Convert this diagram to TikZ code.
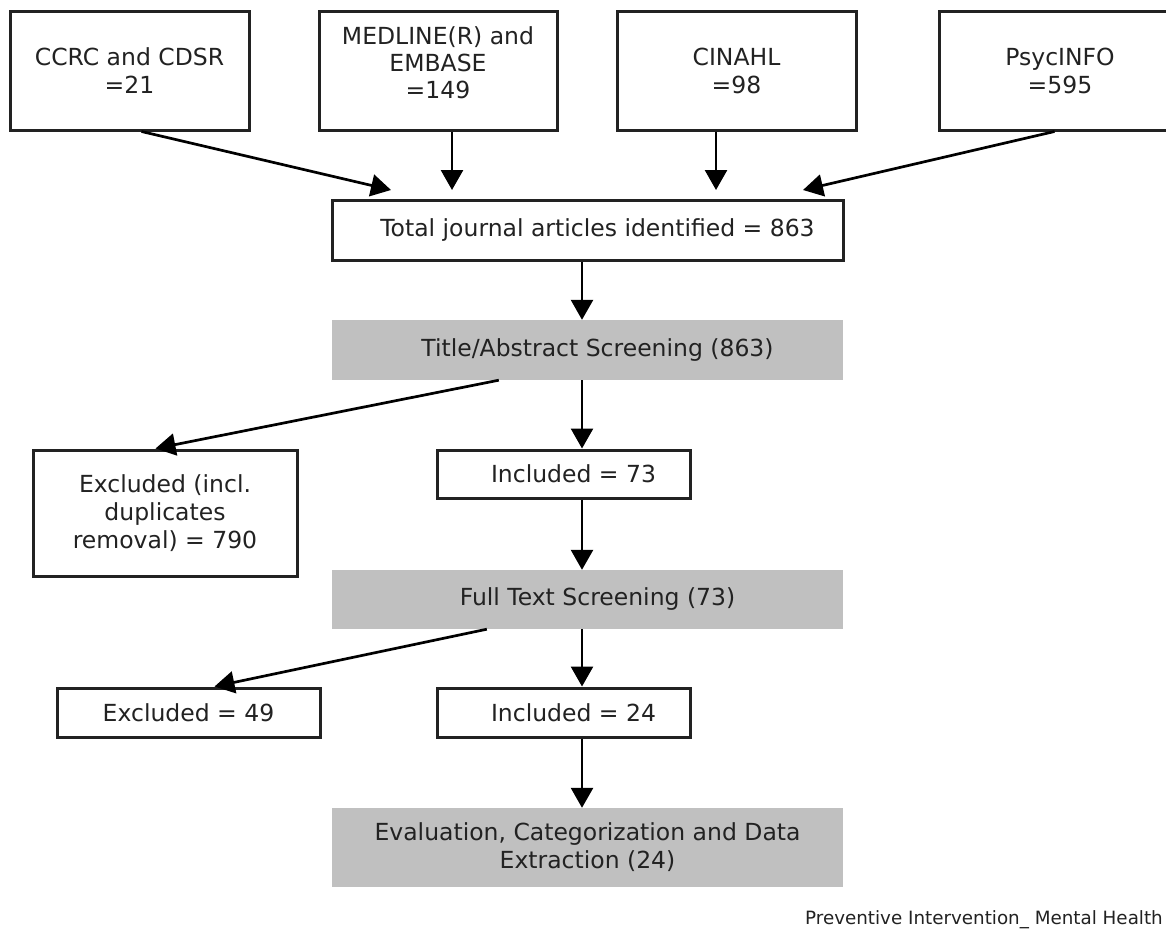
\documentclass[tikz,border=0pt]{standalone}
\usepackage{fontspec}
\setmainfont{DejaVu Sans}
\usetikzlibrary{arrows.meta}
\definecolor{ink}{HTML}{222222}
\definecolor{panel}{HTML}{C0C0C0}
\tikzset{
  box/.style={draw=ink, line width=3pt, fill=white, inner sep=0pt, align=center,
    text=ink, font=\fontsize{23.5pt}{28pt}\selectfont},
  graybox/.style={draw=none, fill=panel, inner sep=0pt, align=center,
    text=ink, font=\fontsize{23.5pt}{28pt}\selectfont},
  shiftr/.style={execute at begin node={\hspace*{20pt}}},
  flow/.style={draw=black, line width=2.7pt, -{Triangle[length=20pt,width=22pt]}},
}
\begin{document}
\begin{tikzpicture}[x=1pt,y=-1pt]
\useasboundingbox (0,0) rectangle (1166,934);
\clip (0,0) rectangle (1166,934);
\fill[white] (0,0) rectangle (1166,934);

% source boxes
\node[box, minimum width=239pt, minimum height=118pt] (ccrc) at (129.5,71) {CCRC and CDSR\\=21};
\node[box, minimum width=238pt, minimum height=118pt,
  label={[yshift=8pt, align=center, text=ink, font=\fontsize{23.5pt}{27pt}\selectfont]center:MEDLINE(R) and\\EMBASE\\=149}] (medline) at (438,71) {};
\node[box, minimum width=239pt, minimum height=118pt] (cinahl) at (736.5,71) {CINAHL\\=98};
\node[box, minimum width=242pt, minimum height=118pt] (psyc) at (1060,71) {PsycINFO\\=595};

% main column
\node[box, shiftr, minimum width=511pt, minimum height=60pt] (total) at (587.5,230) {Total journal articles identified = 863};
\node[graybox, shiftr, minimum width=511pt, minimum height=60pt] (title) at (587.5,350) {Title/Abstract Screening (863)};
\node[box, minimum width=264pt, minimum height=126pt] (exc1) at (165,513) {Excluded (incl.\\duplicates\\removal) = 790};
\node[box, shiftr, minimum width=253pt, minimum height=48pt] (inc1) at (563.5,474) {Included = 73};
\node[graybox, shiftr, minimum width=511pt, minimum height=59pt] (full) at (587.5,599.5) {Full Text Screening (73)};
\node[box, minimum width=263pt, minimum height=49pt] (exc2) at (188.5,712.5) {Excluded = 49};
\node[box, shiftr, minimum width=253pt, minimum height=49pt] (inc2) at (563.5,712.5) {Included = 24};
\node[graybox, minimum width=511pt, minimum height=79pt] (eval) at (587.5,847.5) {Evaluation, Categorization and Data\\Extraction (24)};

\node[anchor=east, inner sep=0pt, text=ink, font=\fontsize{18.3pt}{22pt}\selectfont] (foot) at (1163,920) {Preventive Intervention\_ Mental Health};

% connector end points
\coordinate (e1) at (391,190);
\coordinate (e2) at (452,190);
\coordinate (e3) at (716,190);
\coordinate (e4) at (803,190);
\coordinate (axis) at (582,0);

\draw[flow] ([xshift=133pt]ccrc.south west) -- (e1);
\draw[flow] (medline.south -| e2) -- (e2);
\draw[flow] (cinahl.south -| e3) -- (e3);
\draw[flow] ([xshift=117pt]psyc.south west) -- (e4);

\draw[flow] (total.south -| axis) -- (title.north -| axis);
\draw[flow] (title.south -| axis) -- (inc1.north -| axis);
\draw[flow] ([xshift=167pt]title.south west) -- ([xshift=124pt]exc1.north west);
\draw[flow] (inc1.south -| axis) -- (full.north -| axis);
\draw[flow] (full.south -| axis) -- (inc2.north -| axis);
\draw[flow] ([xshift=155pt]full.south west) -- ([xshift=159pt]exc2.north west);
\draw[flow] (inc2.south -| axis) -- (eval.north -| axis);
\end{tikzpicture}
\end{document}
